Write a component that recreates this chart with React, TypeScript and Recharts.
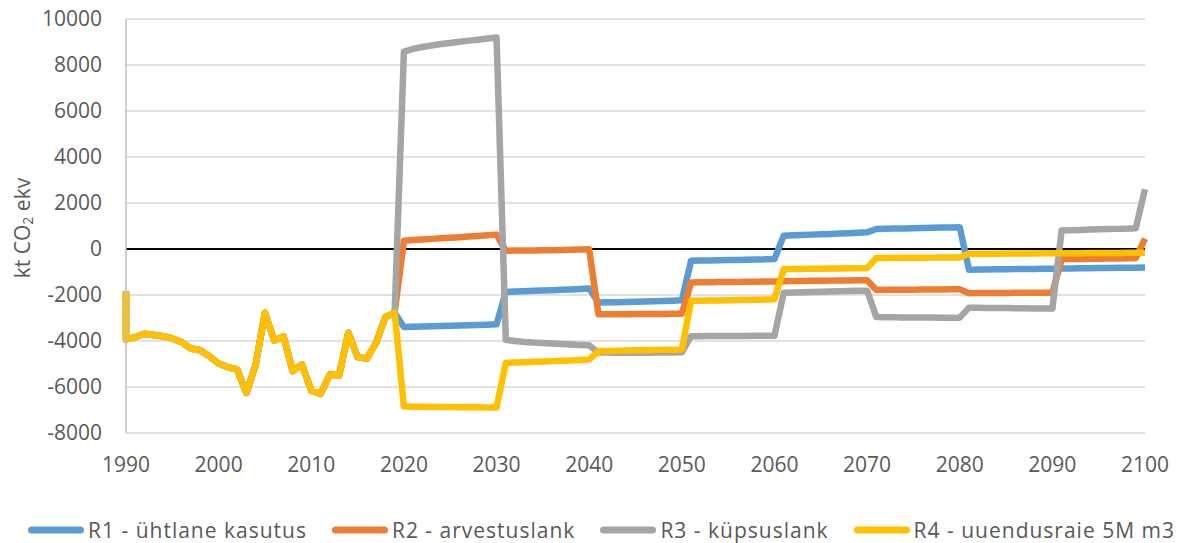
import { LineChart, Line, XAxis, YAxis, CartesianGrid, ReferenceLine, Legend } from 'recharts';

const FONT = '"Open Sans", "Noto Sans", sans-serif';
const TEXT = '#595959';

// x values: 1990 appears twice (the series starts with a near-vertical drop at the axis)
const years = [1990, ...Array.from({ length: 111 }, (_, i) => 1990 + i)];
const xTicks = [1990, 2000, 2010, 2020, 2030, 2040, 2050, 2060, 2070, 2080, 2090, 2100];
const yTicks = [-8000, -6000, -4000, -2000, 0, 2000, 4000, 6000, 8000, 10000];

const seriesNames = ['R1 - ühtlane kasutus', 'R2 - arvestuslank', 'R3 - küpsuslank', 'R4 - uuendusraie 5M m3'];
const seriesColors = ['#5B9BD5', '#ED7D31', '#A5A5A5', '#FFC000'];

// shared history 1990..2019
const history = [
  -1850, -3930, -3830, -3685, -3740, -3790, -3890, -4050, -4325, -4400, -4660,
  -4980, -5140, -5240, -6260, -5020, -2770, -3975, -3800, -5310, -5020,
  -6160, -6300, -5460, -5500, -3640, -4700, -4760, -4080, -2960, -2770,
];

// 2020..2100
const r1Future = [
  -3390, -3380, -3370, -3360, -3350, -3340, -3330, -3315, -3300, -3290, -3275,
  -1865, -1850, -1835, -1820, -1805, -1790, -1775, -1760, -1740, -1720,
  -2330, -2320, -2310, -2300, -2290, -2280, -2270, -2260, -2245, -2230,
  -510, -500, -495, -490, -480, -475, -470, -460, -450, -440,
  580, 595, 610, 625, 640, 655, 670, 685, 705, 725,
  870, 880, 890, 895, 905, 910, 920, 930, 935, 945,
  -900, -895, -890, -885, -880, -875, -870, -865, -860, -855,
  -850, -845, -840, -835, -830, -825, -820, -815, -810, -805,
];
const r2Future = [
  360, 390, 415, 440, 465, 490, 515, 540, 565, 595, 625,
  -75, -70, -65, -60, -55, -50, -40, -30, -20, -15,
  -2840, -2840, -2835, -2835, -2830, -2830, -2825, -2825, -2820, -2820,
  -1455, -1450, -1445, -1440, -1435, -1430, -1425, -1420, -1418, -1415,
  -1400, -1395, -1390, -1385, -1380, -1375, -1370, -1365, -1360, -1360,
  -1780, -1777, -1774, -1771, -1768, -1765, -1762, -1759, -1755, -1750,
  -1920, -1917, -1914, -1911, -1908, -1905, -1902, -1900, -1898, -1895,
  -440, -435, -430, -425, -420, -415, -410, -405, -400, 450,
];
const r3Future = [
  8585, 8700, 8780, 8850, 8910, 8960, 9010, 9060, 9100, 9150, 9200,
  -3950, -4000, -4040, -4070, -4090, -4110, -4130, -4150, -4170, -4190,
  -4500, -4505, -4510, -4510, -4510, -4510, -4505, -4500, -4495, -4490,
  -3790, -3790, -3785, -3785, -3780, -3780, -3780, -3775, -3775, -3775,
  -1900, -1890, -1880, -1870, -1860, -1850, -1840, -1830, -1820, -1810,
  -2960, -2965, -2970, -2975, -2980, -2980, -2980, -2985, -2985, -2985,
  -2550, -2555, -2560, -2565, -2570, -2575, -2580, -2585, -2590, -2590,
  800, 815, 830, 845, 855, 865, 875, 885, 900, 2600,
];
const r4Future = [
  -6845, -6855, -6860, -6865, -6870, -6875, -6880, -6885, -6885, -6890, -6890,
  -4950, -4935, -4920, -4905, -4890, -4875, -4860, -4845, -4825, -4805,
  -4440, -4430, -4420, -4415, -4405, -4400, -4390, -4385, -4380, -4370,
  -2255, -2250, -2240, -2235, -2225, -2220, -2210, -2205, -2195, -2185,
  -875, -870, -865, -860, -855, -850, -845, -840, -835, -830,
  -390, -388, -385, -383, -380, -378, -375, -372, -368, -365,
  -210, -208, -205, -203, -200, -198, -195, -193, -190, -188,
  -185, -183, -180, -178, -175, -173, -170, -168, -165, -160,
];

const futures = [r1Future, r2Future, r3Future, r4Future];
const keys = ['r1', 'r2', 'r3', 'r4'];

const data = years.map((year, i) => {
  const row: Record<string, number> = { year };
  keys.forEach((k, s) => {
    row[k] = i < history.length ? history[i] : futures[s][i - history.length];
  });
  return row;
});

const YLabel = ({ viewBox }: any) => {
  const cx = 22;
  const cy = viewBox.y + viewBox.height / 2 + 2;
  return (
    <text
      x={cx}
      y={cy}
      transform={`rotate(-90, ${cx}, ${cy})`}
      textAnchor="middle"
      dominantBaseline="central"
      fontFamily={FONT}
      fontSize={21}
      fill={TEXT}
    >
      kt CO
      <tspan dy={5} fontSize={14}>2</tspan>
      <tspan dy={-5}> ekv</tspan>
    </text>
  );
};

const renderLegend = (props: any) => (
  <div
    style={{
      display: 'flex',
      paddingLeft: 28,
      fontFamily: FONT,
      fontSize: 21,
      lineHeight: '28px',
      color: TEXT,
      letterSpacing: 1,
      whiteSpace: 'nowrap',
    }}
  >
    {props.payload.map((entry: any) => (
      <div key={entry.value} style={{ display: 'flex', alignItems: 'center', marginRight: 25 }}>
        <svg width={56} height={10}>
          <line x1={3.5} y1={5} x2={52.5} y2={5} stroke={entry.color} strokeWidth={7} strokeLinecap="round" />
        </svg>
        <span style={{ marginLeft: 4 }}>{entry.value}</span>
      </div>
    ))}
  </div>
);

export default function App() {
  return (
    <div style={{ position: 'absolute', left: 0, top: 0, background: '#fff' }}>
      <LineChart width={1181} height={543} data={data} margin={{ top: 19, right: 36, left: 0, bottom: 60 }}>
        <CartesianGrid vertical={false} stroke="#d9d9d9" strokeWidth={1.5} />
        <XAxis
          dataKey="year"
          type="number"
          domain={[1990, 2100]}
          ticks={xTicks}
          height={50}
          axisLine={false}
          tickLine={false}
          tickMargin={18}
          tick={{ fontFamily: FONT, fontSize: 21, fill: TEXT }}
        />
        <YAxis
          type="number"
          domain={[-8000, 10000]}
          ticks={yTicks}
          width={126}
          axisLine={{ stroke: '#bfbfbf', strokeWidth: 1.5 }}
          tickLine={false}
          tickMargin={18}
          tick={{ fontFamily: FONT, fontSize: 21, fill: TEXT }}
          label={<YLabel />}
        />
        <ReferenceLine y={0} stroke="#000" strokeWidth={2} />
        {keys.map((k, s) => (
          <Line
            key={k}
            dataKey={k}
            name={seriesNames[s]}
            stroke={seriesColors[s]}
            strokeWidth={6.5}
            strokeLinejoin="round"
            dot={false}
            activeDot={false}
            isAnimationActive={false}
          />
        ))}
        <Legend
          layout="horizontal"
          verticalAlign="middle"
          align="center"
          content={renderLegend}
          wrapperStyle={{ top: 516, left: 0, width: 1181 }}
        />
      </LineChart>
    </div>
  );
}
